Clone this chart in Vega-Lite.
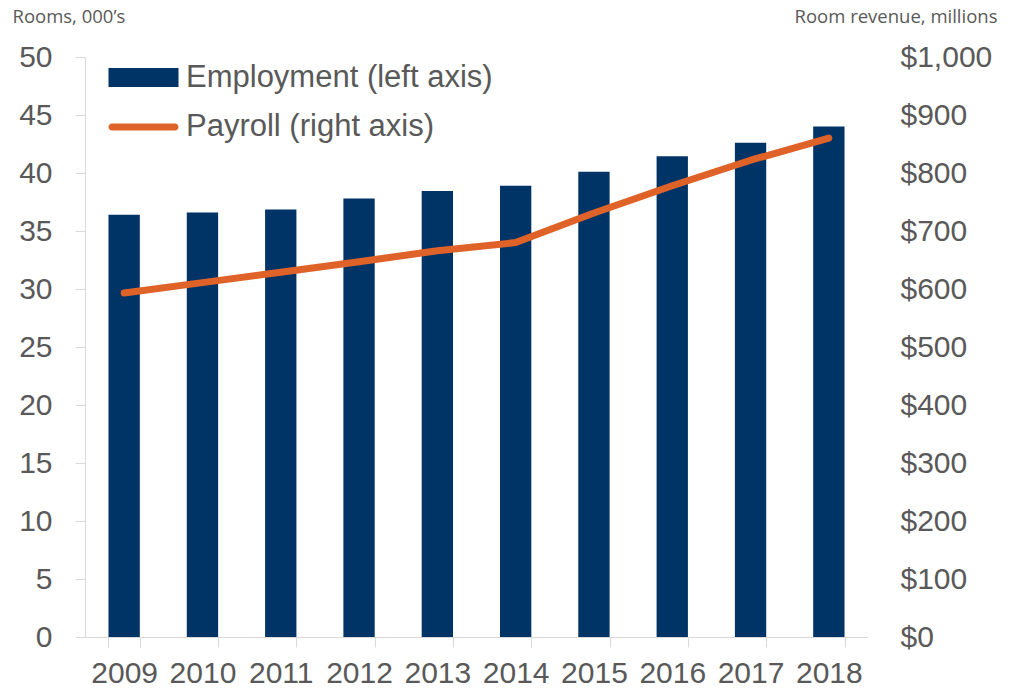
{
  "$schema": "https://vega.github.io/schema/vega-lite/v6.json",
  "width": 783,
  "height": 580,
  "autosize": {"type": "none"},
  "padding": {"left": 85, "top": 57, "right": 148, "bottom": 52},
  "background": "white",
  "config": {
    "view": {"stroke": null},
    "font": "Liberation Sans",
    "axis": {"grid": false, "labelColor": "#595959", "labelFont": "Liberation Sans", "labelFontSize": 30,
             "titleColor": "#595959", "titleFont": "Open Sans", "titleFontSize": 18.5, "titleFontWeight": "normal"}
  },
  "data": {"values": [
    {"year": "2009", "employment": 36.4, "payroll": 593},
    {"year": "2010", "employment": 36.6, "payroll": 611},
    {"year": "2011", "employment": 36.85, "payroll": 629},
    {"year": "2012", "employment": 37.8, "payroll": 647},
    {"year": "2013", "employment": 38.45, "payroll": 666},
    {"year": "2014", "employment": 38.9, "payroll": 680},
    {"year": "2015", "employment": 40.1, "payroll": 731},
    {"year": "2016", "employment": 41.45, "payroll": 778},
    {"year": "2017", "employment": 42.6, "payroll": 822},
    {"year": "2018", "employment": 44.0, "payroll": 860}
  ]},
  "encoding": {
    "x": {"field": "year", "type": "nominal", "title": null,
          "scale": {"paddingInner": 0.6, "paddingOuter": 0.3},
          "axis": {"labelAngle": 0, "domainColor": "#d9d9d9", "tickColor": "#d9d9d9", "tickSize": 10,
                   "tickBand": "extent", "labelPadding": 11}}
  },
  "layer": [
    {
      "mark": {"type": "bar"},
      "encoding": {
        "y": {"field": "employment", "type": "quantitative",
              "scale": {"domain": [0, 50], "nice": false},
              "axis": {"values": [0,5,10,15,20,25,30,35,40,45,50], "title": "Rooms, 000’s",
                       "titleAngle": 0, "titleAlign": "left", "titleBaseline": "middle",
                       "titleX": -73, "titleY": -41,
                       "domainColor": "#d9d9d9", "tickColor": "#d9d9d9", "tickSize": 10, "labelPadding": 23}},
        "color": {"datum": "Employment (left axis)", "type": "nominal",
                  "scale": {"domain": ["Employment (left axis)", "Payroll (right axis)"], "range": ["#003366", "#DF6228"]},
                  "legend": {
                    "title": null, "orient": "none", "legendX": 43, "legendY": 5, "padding": 0,
                    "symbolSize": 400, "labelOffset": 27, "rowPadding": 17.5,
                    "labelFontSize": 31, "labelColor": "#595959", "labelFont": "Liberation Sans", "labelLimit": 600,
                    "encode": {"symbols": {"update": {
                      "shape": {"signal": "datum.value === 'Employment (left axis)' ? 'M-3.5,-0.95H3.5V0.95H-3.5Z' : 'M-3.15,-0.35H3.15A0.35,0.35 0 0 1 3.15,0.35H-3.15A0.35,0.35 0 0 1 -3.15,-0.35Z'"},
                      "fill": {"signal": "datum.value === 'Employment (left axis)' ? '#003366' : '#DF6228'"},
                      "stroke": {"value": "transparent"},
                      "strokeWidth": {"value": 0},
                      "opacity": {"value": 1},
                      "fillOpacity": {"value": 1}
                    }}}
                  }}
      }
    },
    {
      "mark": {"type": "line", "strokeWidth": 7, "strokeCap": "round", "strokeJoin": "round"},
      "encoding": {
        "y": {"field": "payroll", "type": "quantitative",
              "scale": {"domain": [0, 1000], "nice": false},
              "axis": {"orient": "right", "values": [0,100,200,300,400,500,600,700,800,900,1000], "format": "$,.0f",
                       "title": "Room revenue, millions", "titleAngle": 0, "titleAlign": "right", "titleBaseline": "middle",
                       "titleX": 129, "titleY": -41,
                       "domain": false, "ticks": false, "labelPadding": 32, "labelAlign": "left"}},
        "color": {"datum": "Payroll (right axis)", "type": "nominal"}
      }
    }
  ],
  "resolve": {"scale": {"y": "independent"}}
}
